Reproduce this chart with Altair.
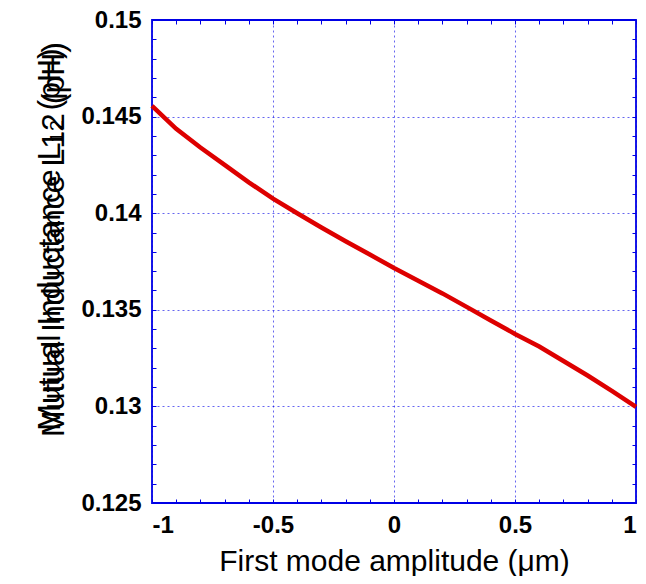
import altair as alt
import pandas as pd

amplitude = [-1.0, -0.9, -0.8, -0.7, -0.6, -0.5, -0.4, -0.3, -0.2, -0.1, 0.0,
             0.1, 0.2, 0.3, 0.4, 0.5, 0.6, 0.7, 0.8, 0.9, 1.0]
inductance = [0.14556, 0.14437, 0.14340, 0.14250, 0.14160, 0.14075, 0.14000,
              0.13926, 0.13855, 0.13786, 0.13716, 0.13650, 0.13585, 0.13515,
              0.13445, 0.13375, 0.13310, 0.13235, 0.13160, 0.13080, 0.12998]

x_major = [-1, -0.5, 0, 0.5, 1]
y_major = [0.125, 0.13, 0.135, 0.14, 0.145, 0.15]
x_minor = [-1, -0.9, -0.8, -0.7, -0.6, -0.5, -0.4, -0.3, -0.2, -0.1, 0,
           0.1, 0.2, 0.3, 0.4, 0.5, 0.6, 0.7, 0.8, 0.9, 1]
y_minor = [0.125, 0.126, 0.127, 0.128, 0.129, 0.13, 0.131, 0.132, 0.133, 0.134,
           0.135, 0.136, 0.137, 0.138, 0.139, 0.14, 0.141, 0.142, 0.143, 0.144,
           0.145, 0.146, 0.147, 0.148, 0.149, 0.15]

y_title = ["Mutual Inductance L₁₂  (pH)", "Mutual Inductance L12   (pH)"]
x_title = "First mode amplitude (μm)"

df = pd.DataFrame({"a": amplitude, "L": inductance})

BLUE = "#0000e6"
FONT = "Liberation Sans"
xs = alt.Scale(domain=[-1, 1], nice=False, zero=False)
ys = alt.Scale(domain=[0.125, 0.15], nice=False, zero=False)

main = alt.Chart(df).mark_line(color="#dd0000", strokeWidth=4.5).encode(
    x=alt.X("a:Q", scale=xs, axis=alt.Axis(
        orient="bottom", values=x_major, labelExpr="'' + datum.value",
        ticks=False, domain=False, grid=True, gridColor=BLUE, gridOpacity=0.6,
        gridDash=[2, 3], gridWidth=1,
        labelFont=FONT, labelFontSize=24, labelFontWeight="bold", labelColor="black",
        labelPadding=10, title=x_title, titleFont=FONT,
        titleFontSize=30, titleFontWeight="normal", titleColor="black", titlePadding=9)),
    y=alt.Y("L:Q", scale=ys, axis=alt.Axis(
        orient="left", values=y_major, labelExpr="'' + datum.value",
        ticks=False, domain=False, grid=True, gridColor=BLUE, gridOpacity=0.6,
        gridDash=[2, 3], gridWidth=1,
        labelFont=FONT, labelFontSize=24, labelFontWeight="bold", labelColor="black",
        labelPadding=11, title=y_title,
        titleFont=FONT, titleFontSize=32, titleFontWeight="normal", titleColor="black",
        titlePadding=10, titleLineHeight=4, titleY=219)),
)

def tick_layer(xo, yo):
    return alt.Chart(df).mark_line(opacity=0).encode(
        x=alt.X("a:Q", scale=xs, axis=alt.Axis(
            orient=xo, offset=-4, values=x_minor, tickSize=4, tickColor=BLUE,
            labels=False, domain=False, grid=False, title=None)),
        y=alt.Y("L:Q", scale=ys, axis=alt.Axis(
            orient=yo, offset=-4, values=y_minor, tickSize=4, tickColor=BLUE,
            labels=False, domain=False, grid=False, title=None)),
    )

chart = alt.layer(main, tick_layer("bottom", "left"), tick_layer("top", "right")).resolve_axis(
    x="independent", y="independent"
).properties(
    width=484, height=483,
    autosize=alt.AutoSizeParams(type="none"),
    padding={"left": 144, "top": 12, "right": 2, "bottom": 73},
).configure_view(stroke=BLUE, strokeWidth=1.8)

chart.save("out.html", embed_options={"renderer": "svg", "actions": False})
